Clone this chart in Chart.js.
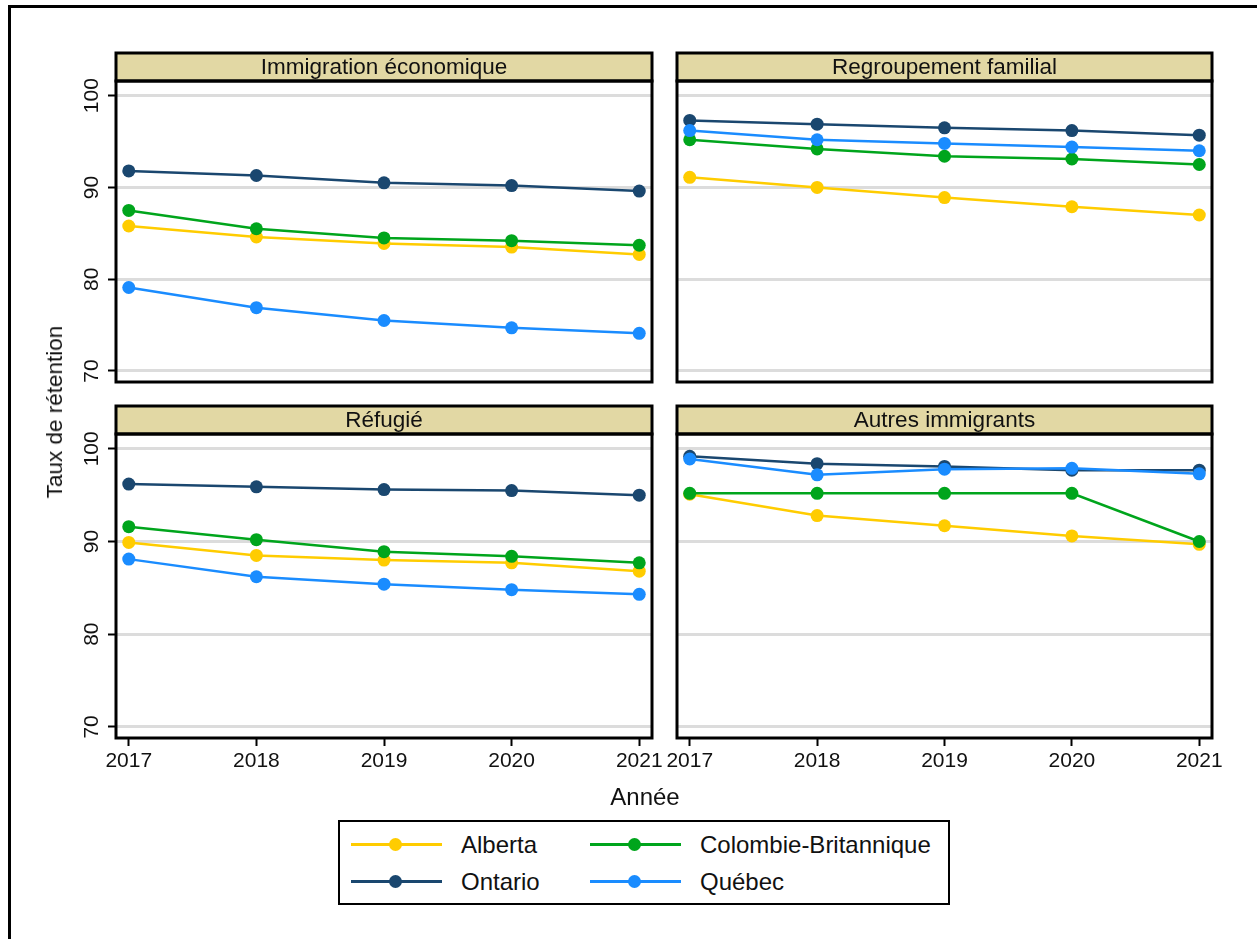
<!DOCTYPE html>
<html lang="fr">
<head>
<meta charset="utf-8">
<title>Taux de rétention</title>
<script src="https://cdn.jsdelivr.net/npm/chart.js@4.4.1/dist/chart.umd.min.js"></script>
<style>
	html, body { margin: 0; padding: 0; background: #fff; }
	body { position: relative; width: 1257px; height: 939px; overflow: hidden; font-family: 'Liberation Sans', Arial, sans-serif; color: #111; }
	.cadre { position: absolute; left: 8px; top: 5px; width: 1300px; height: 1000px; border-left: 3px solid #000; border-top: 3px solid #000; }
	canvas { position: absolute; }
	.titre-y { position: absolute; left: 55px; top: 412px; font-size: 22.5px; white-space: nowrap; transform: translate(-50%, -50%) rotate(-90deg); }
	.titre-x { position: absolute; left: 645px; top: 797px; font-size: 24px; transform: translate(-50%, -50%); }
	.legende { position: absolute; left: 338px; top: 820px; width: 612px; height: 85px; border: 2px solid #000; box-sizing: border-box; }
	.item { position: absolute; height: 24px; }
	.item .trait { position: absolute; left: 0; top: 10px; width: 91px; height: 3px; }
	.item .rond { position: absolute; left: 38px; top: 5px; width: 13px; height: 13px; border-radius: 50%; }
	.item .nom { position: absolute; left: 110px; top: -2px; font-size: 24px; white-space: nowrap; }
</style>
</head>
<body>
<div class="cadre"></div>

<canvas id="graphique_eco" width="630" height="345" style="left:40px; top:45px"></canvas>
<canvas id="graphique_fam" width="595" height="345" style="left:660px; top:45px"></canvas>
<canvas id="graphique_ref" width="630" height="392" style="left:40px; top:398px"></canvas>
<canvas id="graphique_aut" width="595" height="392" style="left:660px; top:398px"></canvas>

<div class="titre-y">Taux de rétention</div>
<div class="titre-x">Année</div>
<div class="legende" id="legende"></div>

<script>
//Données
const annees = [2017, 2018, 2019, 2020, 2021]
const graduationsY = [70, 80, 90, 100]
const provinces = ['Alberta', 'Colombie-Britannique', 'Ontario', 'Québec']
const couleurs = ['#ffcc00', '#00a51c', '#1a476f', '#1a8cff']

//Immigration économique
const ecoAlberta = [85.8, 84.6, 83.9, 83.5, 82.7]
const ecoColombie = [87.5, 85.5, 84.5, 84.2, 83.7]
const ecoOntario = [91.8, 91.3, 90.5, 90.2, 89.6]
const ecoQuebec = [79.1, 76.9, 75.5, 74.7, 74.1]

//Regroupement familial
const famAlberta = [91.1, 90.0, 88.9, 87.9, 87.0]
const famColombie = [95.2, 94.2, 93.4, 93.1, 92.5]
const famOntario = [97.3, 96.9, 96.5, 96.2, 95.7]
const famQuebec = [96.2, 95.2, 94.8, 94.4, 94.0]

//Réfugié
const refAlberta = [89.9, 88.5, 88.0, 87.7, 86.8]
const refColombie = [91.6, 90.2, 88.9, 88.4, 87.7]
const refOntario = [96.2, 95.9, 95.6, 95.5, 95.0]
const refQuebec = [88.1, 86.2, 85.4, 84.8, 84.3]

//Autres immigrants
const autAlberta = [95.1, 92.8, 91.7, 90.6, 89.7]
const autColombie = [95.2, 95.2, 95.2, 95.2, 90.0]
const autOntario = [99.2, 98.4, 98.1, 97.7, 97.7]
const autQuebec = [98.9, 97.2, 97.8, 97.9, 97.3]

const police = "'Liberation Sans', Arial, sans-serif"

//Bandeau de titre, cadre du panneau et étiquettes verticales de l'axe Y
const cadrePanneau = {
	id: 'cadrePanneau',
	afterDraw(chart, args, opts) {
		const { ctx, chartArea: a } = chart
		const h = 28
		ctx.save()
		ctx.fillStyle = '#e2d8a4'
		ctx.fillRect(a.left, a.top - h, a.right - a.left, h)
		ctx.lineWidth = 3
		ctx.strokeStyle = '#000'
		ctx.strokeRect(a.left, a.top - h, a.right - a.left, h)
		ctx.strokeRect(a.left, a.top, a.right - a.left, a.bottom - a.top)

		ctx.fillStyle = '#111'
		ctx.font = `22.5px ${police}`
		ctx.textAlign = 'center'
		ctx.textBaseline = 'middle'
		ctx.fillText(opts.titre, (a.left + a.right) / 2, a.top - h / 2 + 1)

		if (opts.etiquettesY) {
			const echelle = chart.scales.y
			ctx.font = `21px ${police}`
			echelle.ticks.forEach(t => {
				ctx.save()
				ctx.translate(a.left - 24, echelle.getPixelForValue(t.value))
				ctx.rotate(-Math.PI / 2)
				ctx.fillText(String(t.value), 0, 0)
				ctx.restore()
			})
		}
		ctx.restore()
	}
}

const jeuxDonnees = (series) => series.map((valeurs, i) => ({
	label: provinces[i],
	data: annees.map((a, j) => ({ x: a, y: valeurs[j] })),
	borderColor: couleurs[i],
	backgroundColor: couleurs[i],
	borderWidth: 2.5,
	pointRadius: 6.5,
	pointHoverRadius: 6.5,
	pointBorderWidth: 0,
	tension: 0,
	order: series.length - i
}))

//Générateur d'un panneau
const generarPanneau = (idCanvas, titre, series, gauche, bas) => {
	let canvas = document.getElementById(idCanvas)
	return new Chart(canvas, {
		type: 'line',
		data: { datasets: jeuxDonnees(series) },
		plugins: [cadrePanneau],
		options: {
			responsive: false,
			animation: false,
			events: [],
			layout: {
				padding: { top: 36, right: gauche ? 18 : 43, bottom: bas ? 0 : 8, left: 0 }
			},
			plugins: {
				legend: { display: false },
				tooltip: { enabled: false },
				cadrePanneau: { titre: titre, etiquettesY: gauche }
			},
			scales: {
				x: {
					type: 'linear',
					display: bas,
					min: 2016.9,
					max: 2021.1,
					afterBuildTicks: (s) => { s.ticks = annees.map(v => ({ value: v })) },
					afterFit: (s) => { s.height = bas ? 52 : 0 },
					border: { display: false },
					grid: { drawOnChartArea: false, drawTicks: true, tickLength: 8, tickColor: '#000', tickWidth: 2 },
					ticks: { color: '#111', padding: 3, maxRotation: 0, font: { family: police, size: 21 }, callback: (v) => String(v) }
				},
				y: {
					type: 'linear',
					min: 68.8,
					max: 101.6,
					afterBuildTicks: (s) => { s.ticks = graduationsY.map(v => ({ value: v })) },
					afterFit: (s) => { s.width = gauche ? 76 : 17 },
					border: { display: false },
					grid: { color: '#dcdcdc', lineWidth: 3, drawTicks: gauche, tickLength: 8, tickColor: '#000', tickWidth: 2 },
					ticks: { display: false }
				}
			}
		}
	})
}

generarPanneau('graphique_eco', 'Immigration économique', [ecoAlberta, ecoColombie, ecoOntario, ecoQuebec], true, false)
generarPanneau('graphique_fam', 'Regroupement familial', [famAlberta, famColombie, famOntario, famQuebec], false, false)
generarPanneau('graphique_ref', 'Réfugié', [refAlberta, refColombie, refOntario, refQuebec], true, true)
generarPanneau('graphique_aut', 'Autres immigrants', [autAlberta, autColombie, autOntario, autQuebec], false, true)

//Légende en deux colonnes
const legende = document.getElementById('legende')
const positions = [[11, 11], [250, 11], [11, 48], [250, 48]]
provinces.forEach((nom, i) => {
	const item = document.createElement('div')
	item.className = 'item'
	item.style.left = positions[i][0] + 'px'
	item.style.top = positions[i][1] + 'px'
	item.innerHTML = `<div class="trait" style="background:${couleurs[i]}"></div>` +
		`<div class="rond" style="background:${couleurs[i]}"></div>` +
		`<div class="nom">${nom}</div>`
	legende.appendChild(item)
})
</script>
</body>
</html>
